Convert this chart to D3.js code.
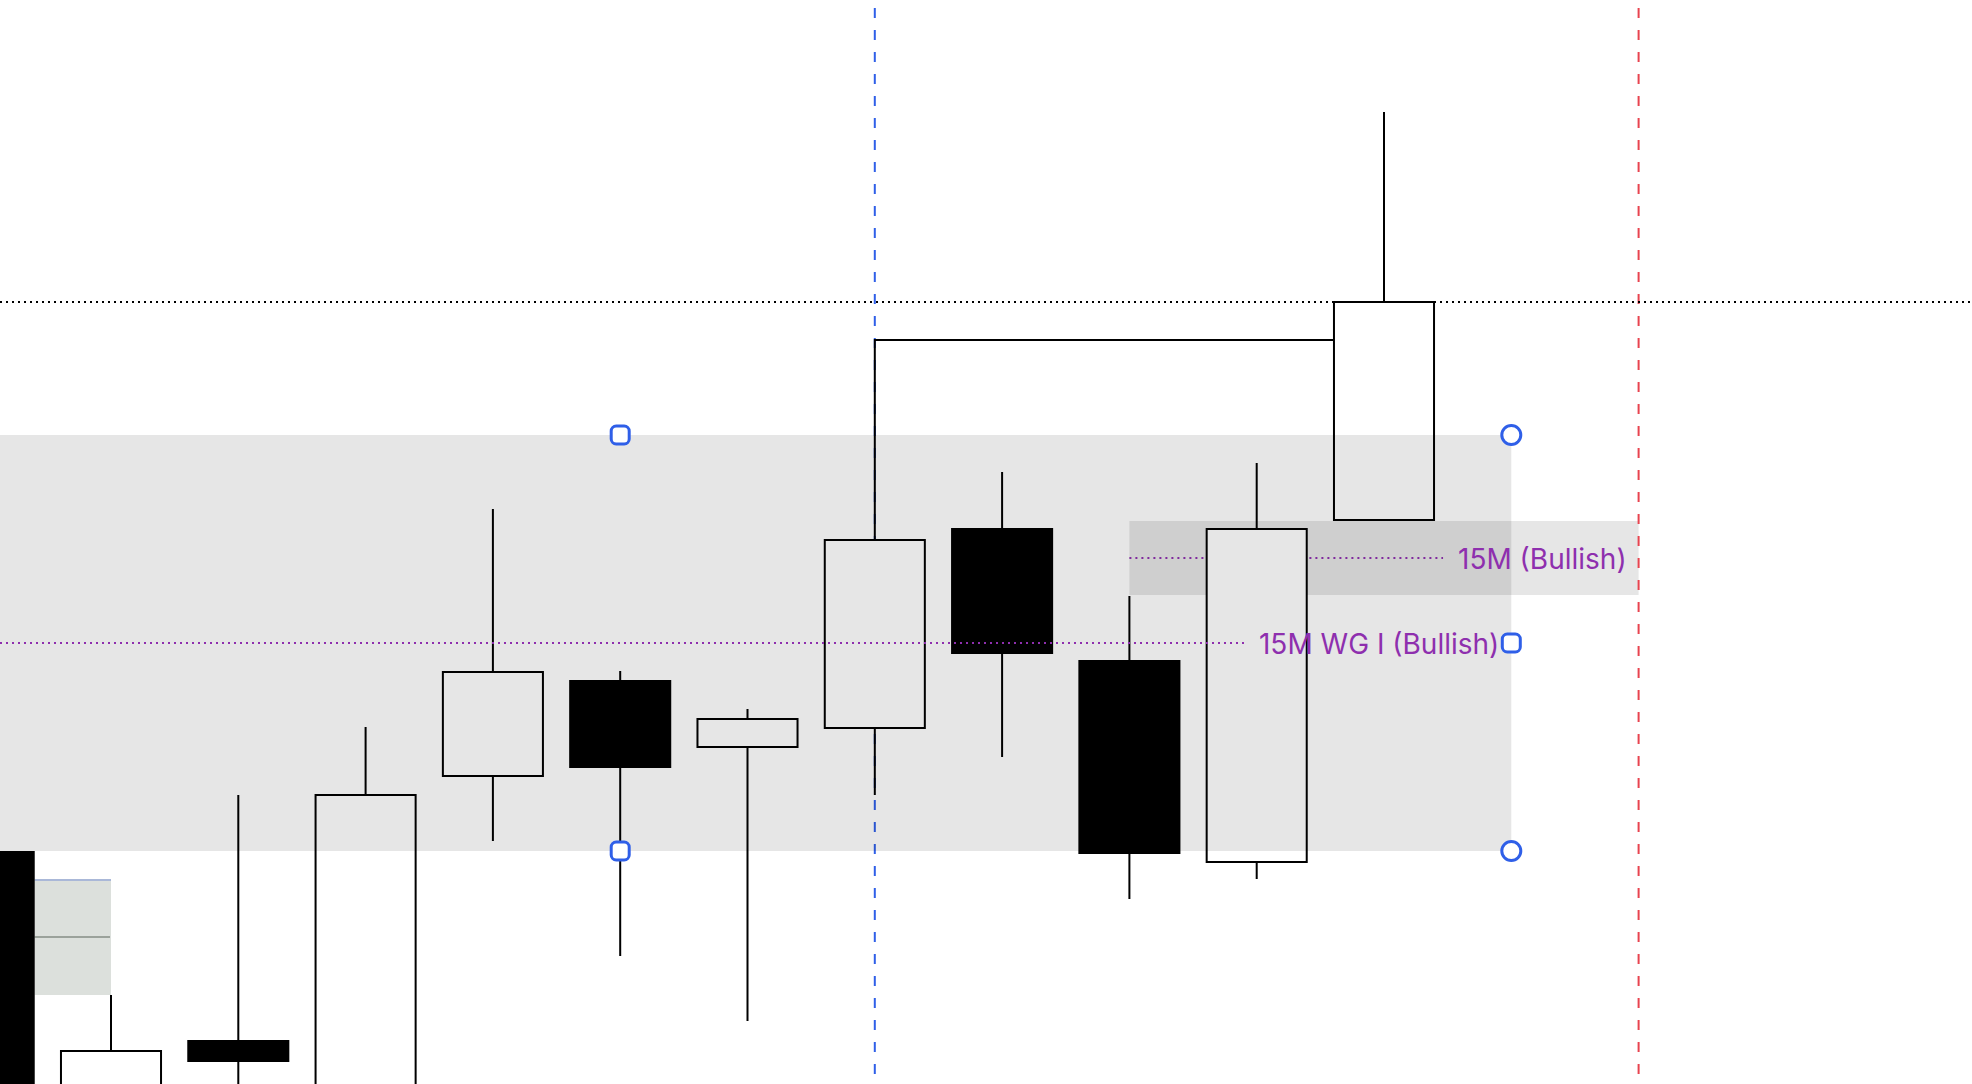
<!DOCTYPE html>
<html>
<head>
<meta charset="utf-8">
<script src="https://cdn.jsdelivr.net/npm/d3@7"></script>
<style>
  html, body { margin: 0; padding: 0; background: #ffffff; overflow: hidden; }
  svg { display: block; }
</style>
</head>
<body>
<svg id="chart" width="1972" height="1084"></svg>
<script>
// ---------------- data ----------------
const candleIndex = [-1, 0, 1, 2, 3, 4, 5, 6, 7, 8, 9, 10];
const opens  = [1023.2, 990.0, 1004.3, 990.0, 1030.8, 1040.3, 1033.7, 1035.6, 1055.5, 1042.3, 1022.2, 1056.4];
const highs  = [1026.0, 1008.9, 1028.9, 1035.7, 1057.5, 1041.3, 1037.5, 1054.4, 1061.2, 1048.8, 1062.1, 1097.2];
const lows   = [ 985.0,  985.0,  980.0,  985.0, 1024.3, 1012.8, 1006.3, 1028.9, 1032.7, 1018.5, 1020.5, 1056.4];
const closes = [ 990.0, 1003.3, 1002.3, 1028.9, 1041.2, 1031.7, 1036.5, 1054.4, 1043.1, 1023.1, 1055.5, 1078.2];

// zones: [startIndex, endIndex, top, bottom]
const mainZone = [-2, 11, 1064.9, 1023.3];
const mainZoneLabel = "15M WG I (Bullish)";
const subZone  = [8, 12, 1056.3, 1048.9];
const subZoneLabel = "15M (Bullish)";
const legacyBox = [-0.6, 0, 1020.5, 1008.9, 1014.7];   // small grey-green box: x0, x1, top, bottom, mid
const levelLine = 1078.2;                 // black dotted horizontal level
const connector = [6, 10, 1074.4];         // from candle 6 top to candle 10, at price
const blueMarker = 6;                       // blue dashed vertical at candle index
const redMarker = 12;                       // red dashed vertical at index
const handleSquares = [[4, 1064.9], [4, 1023.3], [11, 1044.1]];
const handleCircles = [[11, 1064.9], [11, 1023.3]];

// ---------------- scales ----------------
const W = 1972, H = 1084;
const svg = d3.select("#chart");
const x = d3.scaleLinear().domain([0, 12]).range([111, 111 + 12 * 127.3]);
const y = d3.scaleLinear().domain([1000, 1108.4]).range([H, 0]);
const step = x(1) - x(0);
const bodyW = step * 0.786;

const purple = "#8e2fae";
const blue = "#2f5fe8";
const red = "#e8444f";
const zoneFill = "rgba(0,0,0,0.098)";

svg.append("rect").attr("width", W).attr("height", H).attr("fill", "#ffffff");

// sub zone (under candles)
svg.append("rect")
  .attr("x", x(subZone[0])).attr("y", y(subZone[2]))
  .attr("width", x(subZone[1]) - x(subZone[0]))
  .attr("height", y(subZone[3]) - y(subZone[2]))
  .attr("fill", zoneFill);

// markers (blue / red dashed verticals)
svg.append("line")
  .attr("x1", x(blueMarker)).attr("x2", x(blueMarker))
  .attr("y1", 8).attr("y2", 1076)
  .attr("stroke", blue).attr("stroke-width", 2).attr("stroke-dasharray", "10,12");

// legacy small box
svg.append("rect")
  .attr("x", x(legacyBox[0])).attr("y", y(legacyBox[2]))
  .attr("width", x(legacyBox[1]) - x(legacyBox[0]))
  .attr("height", y(legacyBox[3]) - y(legacyBox[2]))
  .attr("fill", "#dce0dc");
svg.append("line")
  .attr("x1", x(legacyBox[0])).attr("x2", x(legacyBox[1]))
  .attr("y1", y(legacyBox[2]) + 1).attr("y2", y(legacyBox[2]) + 1)
  .attr("stroke", "#aab8d8").attr("stroke-width", 2);
svg.append("line")
  .attr("x1", x(legacyBox[0])).attr("x2", x(legacyBox[1]) - 1)
  .attr("y1", y(legacyBox[4])).attr("y2", y(legacyBox[4]))
  .attr("stroke", "#9ba29b").attr("stroke-width", 2);

// sub zone midline (under candles)
const subMid = (subZone[2] + subZone[3]) / 2;
const subLine = svg.append("line")
  .attr("x1", x(subZone[0])).attr("y1", y(subMid)).attr("y2", y(subMid))
  .attr("stroke", purple).attr("stroke-width", 2).attr("stroke-dasharray", "2,4");

// candles
const candles = candleIndex.map((d, i) => ({ i: d, o: opens[i], h: highs[i], l: lows[i], c: closes[i] }));
const g = svg.append("g");
g.selectAll("line.wick").data(candles).join("line")
  .attr("class", "wick")
  .attr("x1", d => x(d.i)).attr("x2", d => x(d.i))
  .attr("y1", d => y(d.h)).attr("y2", d => y(d.l))
  .attr("stroke", "#000").attr("stroke-width", 2);
g.selectAll("rect.body").data(candles).join("rect")
  .attr("class", "body")
  .attr("x", d => x(d.i) - bodyW / 2)
  .attr("width", bodyW)
  .attr("y", d => y(Math.max(d.o, d.c)))
  .attr("height", d => Math.max(1, Math.abs(y(d.o) - y(d.c))))
  .attr("fill", d => d.c >= d.o ? "#ffffff" : "#000000")
  .attr("stroke", "#000").attr("stroke-width", 2);

// main zone (translucent, over candles)
svg.append("rect")
  .attr("x", x(mainZone[0])).attr("y", y(mainZone[2]))
  .attr("width", x(mainZone[1]) - x(mainZone[0]))
  .attr("height", y(mainZone[3]) - y(mainZone[2]))
  .attr("fill", zoneFill);

// red marker
svg.append("line")
  .attr("x1", x(redMarker)).attr("x2", x(redMarker))
  .attr("y1", 8).attr("y2", 1076)
  .attr("stroke", red).attr("stroke-width", 2).attr("stroke-dasharray", "10,12");

// black dotted level
svg.append("line")
  .attr("x1", 0).attr("x2", W)
  .attr("y1", y(levelLine)).attr("y2", y(levelLine))
  .attr("stroke", "#000").attr("stroke-width", 2).attr("stroke-dasharray", "2,4");

// connector
const c6 = candles.find(d => d.i === connector[0]);
svg.append("path")
  .attr("d", d3.line()([
    [x(connector[0]), y(Math.max(c6.o, c6.c))],
    [x(connector[0]), y(connector[2])],
    [x(connector[1]) - bodyW / 2, y(connector[2])]
  ]))
  .attr("fill", "none").attr("stroke", "#000").attr("stroke-width", 2);

// labels
const font = "Inter, 'Noto Sans', sans-serif";
const subText = svg.append("text")
  .attr("x", x(12) - 12).attr("y", y(subMid) + 11)
  .attr("text-anchor", "end")
  .attr("font-family", font).attr("font-size", 28)
  .attr("fill", purple).text(subZoneLabel);
subLine.attr("x2", x(12) - 12 - subText.node().getComputedTextLength() - 15);

const mainMid = (mainZone[2] + mainZone[3]) / 2;
const mainLine = svg.append("line")
  .attr("x1", 0).attr("y1", y(mainMid)).attr("y2", y(mainMid))
  .attr("stroke", purple).attr("stroke-width", 2).attr("stroke-dasharray", "2,4");
const mainText = svg.append("text")
  .attr("x", x(11) - 12).attr("y", y(mainMid) + 11)
  .attr("text-anchor", "end")
  .attr("font-family", font).attr("font-size", 28)
  .attr("fill", purple).text(mainZoneLabel);
mainLine.attr("x2", x(11) - 12 - mainText.node().getComputedTextLength() - 15);

// handles
svg.selectAll("rect.handle").data(handleSquares).join("rect")
  .attr("class", "handle")
  .attr("x", d => x(d[0]) - 9).attr("y", d => y(d[1]) - 9)
  .attr("width", 18).attr("height", 18).attr("rx", 5)
  .attr("fill", "#fff").attr("stroke", blue).attr("stroke-width", 3);
svg.selectAll("circle.handle").data(handleCircles).join("circle")
  .attr("class", "handle")
  .attr("cx", d => x(d[0])).attr("cy", d => y(d[1])).attr("r", 9.5)
  .attr("fill", "#fff").attr("stroke", blue).attr("stroke-width", 3);
</script>
</body>
</html>
